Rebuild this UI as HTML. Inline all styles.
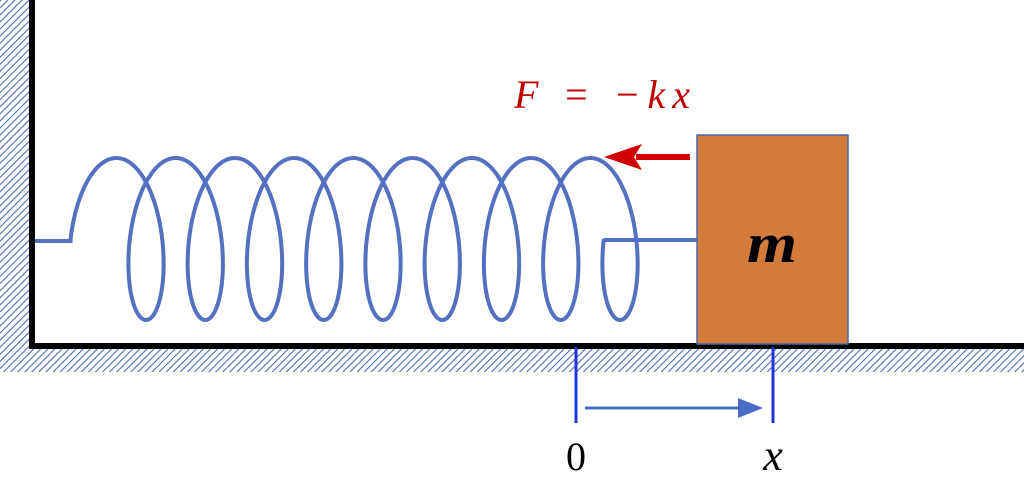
<!DOCTYPE html>
<html><head><meta charset="utf-8"><style>
html,body{margin:0;padding:0;background:#fff;width:1024px;height:485px;overflow:hidden}
</style></head><body>
<svg width="1024" height="485" viewBox="0 0 1024 485" xmlns="http://www.w3.org/2000/svg">
<defs>
<pattern id="h" width="5" height="5" patternUnits="userSpaceOnUse" patternTransform="rotate(45)">
<rect width="5" height="5" fill="#fff"/>
<line x1="0" y1="0" x2="0" y2="5" stroke="#4f6bbd" stroke-width="2.2"/>
</pattern>
</defs>
<rect x="0" y="0" width="30" height="372" fill="url(#h)"/>
<rect x="0" y="347" width="1024" height="25" fill="url(#h)"/>
<line x1="32" y1="0" x2="32" y2="349" stroke="#000" stroke-width="6"/>
<line x1="29" y1="346" x2="1024" y2="346" stroke="#000" stroke-width="6"/>
<path id="spring" fill="none" stroke="#5470c0" stroke-width="4" stroke-linejoin="miter"/>
<rect x="697" y="135" width="151" height="209" fill="#d27b3a" stroke="#4a6aae" stroke-width="1.5"/>
<text x="772" y="262" font-family="Liberation Serif, serif" font-size="56" font-weight="bold" font-style="italic" text-anchor="middle" textLength="50" lengthAdjust="spacingAndGlyphs">m</text>
<line x1="690" y1="157" x2="636" y2="157" stroke="#d00000" stroke-width="6"/>
<polygon points="604,157 642,144 634,157 642,170" fill="#d00000"/>
<text x="514" y="108" font-family="Liberation Serif, serif" font-size="40" font-style="italic" fill="#c00000" textLength="176" lengthAdjust="spacing">F = −kx</text>
<line x1="576" y1="347" x2="576" y2="423" stroke="#2035e0" stroke-width="3"/>
<line x1="773" y1="347" x2="773" y2="423" stroke="#2035e0" stroke-width="3"/>
<line x1="585" y1="408" x2="742" y2="408" stroke="#4a6cc4" stroke-width="3"/>
<polygon points="763,408 738,398 738,418" fill="#4a6cc4"/>
<text x="576" y="470" font-family="Liberation Serif, serif" font-size="40" text-anchor="middle">0</text>
<text x="773" y="470" font-family="Liberation Serif, serif" font-size="44" font-style="italic" text-anchor="middle">x</text>
</svg>
<script>
(function(){
var p=59.25,b=31,xc=116.4,yc=239,h=81;
var d="M35,241 L70.6,241";
var t0=-Math.PI/2,t1=17.5*Math.PI,n=1400;
for(var i=0;i<=n;i++){var t=t0+(t1-t0)*i/n;var x=xc+p*t/(2*Math.PI)+b*Math.sin(t);var y=yc-h*Math.cos(t);d+=" L"+x.toFixed(2)+","+y.toFixed(2);}
d+=" L603.8,240 L697,240";
document.getElementById("spring").setAttribute("d",d);
})();
</script>
</body></html>
